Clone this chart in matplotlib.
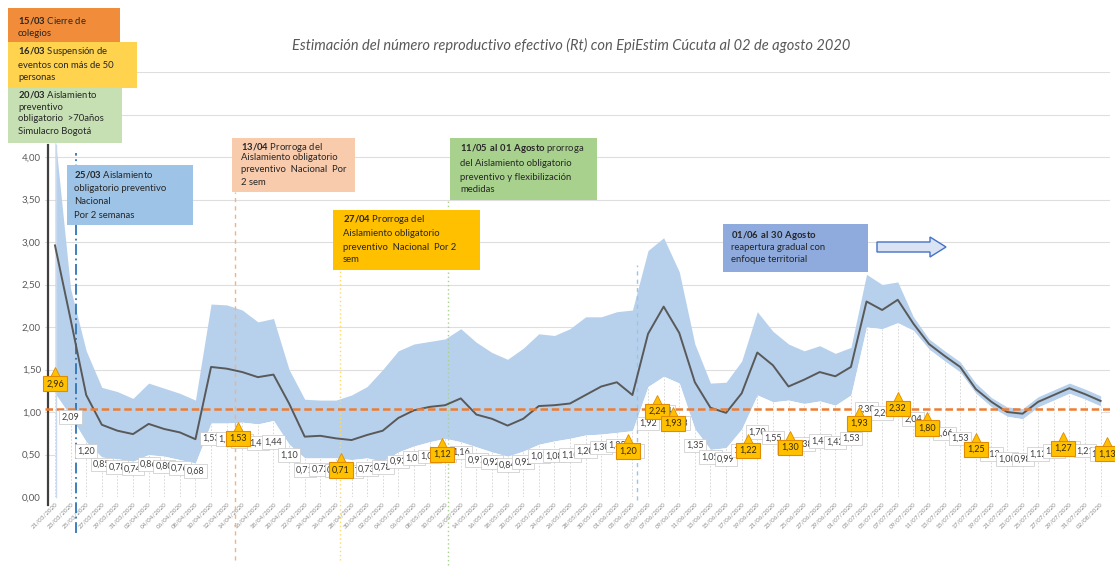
import datetime as dt
import matplotlib
matplotlib.use("Agg")
import matplotlib.pyplot as plt
from matplotlib.patches import Rectangle, Polygon

plt.rcParams['font.family'] = ['Lato', 'DejaVu Sans']
plt.rcParams['mathtext.fontset'] = 'custom'
plt.rcParams['mathtext.rm'] = 'Lato'
plt.rcParams['mathtext.bf'] = 'Lato:bold'

# ---------------- data (every 2 days, 21/03/2020 - 02/08/2020) ----------------
start_date = dt.date(2020, 3, 21)
n_points = 68
dates = [(start_date + dt.timedelta(days=2 * k)).strftime('%d/%m/%Y') for k in range(n_points)]

rt_mean = [2.96, 2.09, 1.20, 0.85, 0.78, 0.74, 0.86, 0.80, 0.76, 0.68,
           1.53, 1.51, 1.47, 1.41, 1.44, 1.10, 0.71, 0.72, 0.69, 0.67,
           0.73, 0.78, 0.93, 1.02, 1.06, 1.08, 1.16, 0.97, 0.92, 0.84,
           0.92, 1.07, 1.08, 1.10, 1.20, 1.30, 1.35, 1.20, 1.92, 2.24,
           1.93, 1.35, 1.05, 0.99, 1.22, 1.70, 1.55, 1.30, 1.38, 1.47,
           1.42, 1.53, 2.30, 2.20, 2.32, 2.04, 1.80, 1.66, 1.53, 1.27,
           1.12, 1.00, 0.98, 1.12, 1.20, 1.28, 1.21, 1.13]

rt_upper = [4.25, 2.45, 1.72, 1.29, 1.24, 1.16, 1.34, 1.28, 1.22, 1.14,
            2.27, 2.26, 2.20, 2.06, 2.10, 1.50, 1.15, 1.14, 1.14, 1.20,
            1.30, 1.50, 1.72, 1.80, 1.83, 1.86, 1.98, 1.82, 1.70, 1.62,
            1.75, 1.92, 1.90, 1.98, 2.12, 2.12, 2.18, 2.20, 2.90, 3.05,
            2.65, 1.80, 1.34, 1.35, 1.60, 2.18, 1.95, 1.80, 1.72, 1.78,
            1.69, 1.76, 2.62, 2.50, 2.53, 2.12, 1.86, 1.72, 1.59, 1.34,
            1.17, 1.06, 1.04, 1.18, 1.26, 1.34, 1.27, 1.19]

rt_lower = [1.22, 0.95, 0.65, 0.47, 0.45, 0.42, 0.50, 0.48, 0.44, 0.40,
            0.87, 0.87, 0.88, 0.86, 0.90, 0.62, 0.46, 0.46, 0.46, 0.44,
            0.46, 0.42, 0.53, 0.60, 0.65, 0.69, 0.65, 0.59, 0.53, 0.48,
            0.54, 0.62, 0.66, 0.69, 0.73, 0.74, 0.76, 0.78, 1.30, 1.42,
            1.34, 0.80, 0.56, 0.58, 0.80, 1.20, 1.12, 1.14, 1.10, 1.13,
            1.08, 1.20, 2.00, 1.98, 2.05, 1.96, 1.74, 1.60, 1.47, 1.22,
            1.06, 0.95, 0.92, 1.06, 1.14, 1.22, 1.15, 1.07]

threshold = 1.04

# highlighted labels (position in 2-day steps, value shown)
callout_pos = [0, 11.7, 18.3, 24.8, 36.7, 38.6, 39.6, 44.4, 47.1, 51.5, 54.0, 55.9, 59.0, 64.6, 67.4]
callout_val = [2.96, 1.53, 0.71, 1.12, 1.20, 2.24, 1.93, 1.22, 1.30, 1.93, 2.32, 1.80, 1.25, 1.27, 1.13]

def fmt(v):
    return f"{v:.2f}".replace('.', ',')

# ---------------- figure ----------------
W, H = 1115, 566
fig = plt.figure(figsize=(W / 100, H / 100), dpi=100)
ax = fig.add_axes([45 / W, 1 - 497 / H, 1065 / W, 425 / H])
x = list(range(n_points))

ax.set_xlim(-0.64, 67.6)
ax.set_ylim(0, 5)
yt = [i * 0.5 for i in range(11)]
ax.set_yticks(yt)
ax.set_yticklabels([fmt(v) for v in yt], fontsize=7, color='#595959')
ax.set_xticks(x)
ax.set_xticklabels(dates, rotation=45, ha='right', rotation_mode='anchor',
                   fontsize=4.5, color='#8c8c8c')
ax.tick_params(length=0, pad=3)
for s in ax.spines.values():
    s.set_visible(False)
ax.grid(axis='y', color='#dedede', lw=0.8)
ax.set_axisbelow(True)

# band and white area
ax.fill_between(x, rt_lower, rt_upper, color='#B7D1EC', lw=0, zorder=2)
ax.fill_between(x, 0, rt_lower, color='white', lw=0, zorder=2)
ax.vlines(x, 0, rt_lower, colors='#d2d2d2', linestyles=(0, (2, 2)), lw=0.6, zorder=3)

# event lines
def ypx(py):
    return (497 - py) / 85.0

def xpx(px):
    return (px - 55) / 15.607

ev = [
    (48, 505, 145, '#404040', 1.6, '-'),
    (56, 497, 145, '#c9d9ee', 1.0, '-'),
    (76, 533, 153, '#2E75B6', 1.3, (0, (6, 2, 1, 2))),
    (235, 560, 192, '#F4B183', 1.0, (0, (3, 3))),
    (340, 560, 270, '#FFD966', 1.0, (0, (1, 2))),
    (448, 565, 200, '#A9D18E', 1.0, (0, (1, 2))),
    (637, 500, 265, '#9DC3E6', 1.0, (0, (3, 3))),
]
for px, pb, pt, c, lw, ls in ev:
    ax.plot([xpx(px), xpx(px)], [ypx(pb), ypx(pt)], color=c, lw=lw, ls=ls,
            clip_on=False, zorder=3.5)

ax.axhline(threshold, color='#ED7D31', lw=1.8, ls=(0, (3, 1.5)), zorder=4.5)
ax.plot(x, rt_mean, color='#595959', lw=1.4, zorder=4)

# data labels
for k in x:
    ax.text(k, rt_mean[k] * 0.45, fmt(rt_mean[k]), ha='center', va='center',
            fontsize=6.5, color='#404040', zorder=6 + k * 0.01,
            bbox=dict(boxstyle='square,pad=0.25', fc='white', ec='#c8c8c8', lw=0.5))

for p, v in zip(callout_pos, callout_val):
    yv = v * 0.45
    ax.plot(p, yv + 0.125, marker='^', ms=8, color='#FFC000', mec='#E08B00', mew=0.6,
            zorder=20, clip_on=False)
    ax.text(p, yv, fmt(v), ha='center', va='center', fontsize=6.5, color='#3a2a00',
            zorder=21, bbox=dict(boxstyle='square,pad=0.35', fc='#FFC000', ec='#E08B00', lw=0.8))

# ---------------- title ----------------
fig.text(571 / W, 1 - 45 / H,
         'Estimación del número reproductivo efectivo (Rt) con EpiEstim Cúcuta al 02 de agosto 2020',
         ha='center', va='center', style='italic', fontsize=10.5, color='#595959')

# ---------------- annotation boxes ----------------
def box(x0, y0, x1, y1, color, lines, tx, tys, fs=6.8):
    fig.add_artist(Rectangle((x0 / W, 1 - y1 / H), (x1 - x0) / W, (y1 - y0) / H,
                             transform=fig.transFigure, fc=color, ec='none', zorder=10))
    for t, ty in zip(lines, tys):
        fig.text(tx / W, 1 - ty / H, t, ha='left', va='center', fontsize=fs,
                 color='#262626', zorder=11)

box(8, 8, 120, 42, '#F08C3A', [r'$\bf{15/03}$ Cierre de', 'colegios'], 18, [20, 33])
box(8, 80, 122, 143, '#C6E0B4', [r'$\bf{20/03}$ Aislamiento', 'preventivo',
                                  'obligatorio  >70años', 'Simulacro Bogotá'], 18, [94, 107, 119, 132])
box(8, 42, 137, 88, '#FFD34E', [r'$\bf{16/03}$ Suspensión de', 'eventos con más de 50',
                                 'personas'], 18, [52, 65, 78])
box(67, 165, 193, 225, '#9DC3E6', [r'$\bf{25/03}$ Aislamiento', 'obligatorio preventivo',
                                    'Nacional', 'Por 2 semanas'], 74, [175, 189, 202, 215])
box(232, 138, 355, 192, '#F8CBAD', [r'$\bf{13/04}$ Prorroga del', 'Aislamiento obligatorio',
                                     'preventivo  Nacional  Por', '2 sem'], 241, [147, 158, 170, 182])
box(333, 210, 480, 270, '#FFC000', [r'$\bf{27/04}$ Prorroga del', 'Aislamiento obligatorio',
                                     'preventivo  Nacional  Por 2', 'sem'], 343, [220, 233, 247, 260])
box(450, 138, 597, 200, '#A9D18E', [r'$\bf{11/05\ al\ 01\ Agosto}$ prorroga', 'del Aislamiento obligatorio',
                                     'preventivo y flexibilización', 'medidas'], 460, [148, 163, 177, 190])
box(723, 224, 868, 272, '#8FAADC', [r'$\bf{01/06\ al\ 30\ Agosto}$', 'reapertura gradual con',
                                     'enfoque territorial'], 731, [235, 248, 260])

arrow_px = [(877, 242), (930, 242), (930, 237), (946, 247), (930, 257), (930, 252), (877, 252)]
fig.add_artist(Polygon([(a / W, 1 - b / H) for a, b in arrow_px], closed=True,
                       transform=fig.transFigure, fc='#DAE3F3', ec='#4472C4', lw=1, zorder=10))

fig.savefig('out.png', dpi=100)
